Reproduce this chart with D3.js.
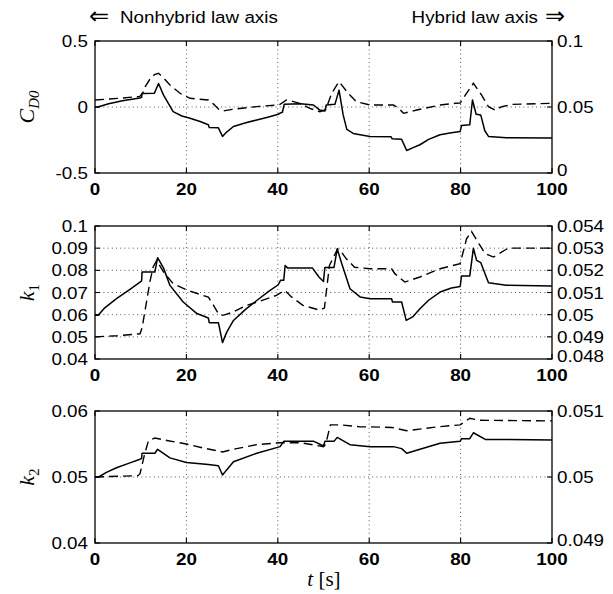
<!DOCTYPE html>
<html><head><meta charset="utf-8">
<script src="https://cdn.jsdelivr.net/npm/d3@7"></script>
<style>body{margin:0;background:#fff}svg{display:block}</style>
</head><body>
<svg id="c" width="613" height="594"></svg>
<script>
// ---------- data ----------
const xTicks = [0, 20, 40, 60, 80, 100];
const xTickLabels = ["0", "20", "40", "60", "80", "100"];

const cd0LeftTicks = [-0.5, 0, 0.5];
const cd0LeftLabels = ["-0.5", "0", "0.5"];
const cd0RightTicks = [0, 0.05, 0.1];
const cd0RightLabels = ["0", "0.05", "0.1"];

const k1LeftTicks = [0.04, 0.05, 0.06, 0.07, 0.08, 0.09, 0.1];
const k1LeftLabels = ["0.04", "0.05", "0.06", "0.07", "0.08", "0.09", "0.1"];
const k1RightTicks = [0.048, 0.049, 0.05, 0.051, 0.052, 0.053, 0.054];
const k1RightLabels = ["0.048", "0.049", "0.05", "0.051", "0.052", "0.053", "0.054"];

const k2LeftTicks = [0.04, 0.05, 0.06];
const k2LeftLabels = ["0.04", "0.05", "0.06"];
const k2RightTicks = [0.049, 0.05, 0.051];
const k2RightLabels = ["0.049", "0.05", "0.051"];

// C_D0 : nonhybrid (solid, left axis)
const cd0SolidT = [0, 0.6, 3, 6, 9.8, 10.2, 10.3, 13.0, 13.9, 15, 17.1, 19, 20.8, 23, 24.8, 25.0, 27.0, 27.9, 28.8, 30.3, 33, 35.4, 38, 40.1, 40.6, 41.0, 41.4, 45, 47.8, 49.2, 50.3, 50.6, 52.5, 53.4, 54.3, 55.1, 56.5, 58, 60.2, 64.8, 65.0, 67.1, 68.2, 69.5, 71.1, 73, 75.5, 78, 79.9, 80.2, 82.0, 82.6, 83.4, 84.4, 85.3, 86.1, 90, 100];
const cd0SolidV = [0, 0, 0.025, 0.048, 0.068, 0.073, 0.103, 0.105, 0.178, 0.09, -0.035, -0.068, -0.085, -0.11, -0.135, -0.156, -0.158, -0.223, -0.19, -0.148, -0.12, -0.098, -0.075, -0.055, -0.045, -0.04, 0.02, 0.025, 0.015, -0.023, -0.03, 0.015, 0.02, 0.128, -0.06, -0.17, -0.2, -0.21, -0.223, -0.225, -0.24, -0.245, -0.33, -0.31, -0.286, -0.245, -0.21, -0.195, -0.186, -0.14, -0.135, 0.053, -0.055, -0.06, -0.18, -0.223, -0.233, -0.235];
// C_D0 : hybrid (dashed, right axis)
const cd0DashT = [0, 5, 9.8, 10.5, 11, 12, 13, 13.9, 15, 16.4, 18.6, 20.8, 24.8, 26, 27, 28, 30, 33.2, 36, 39.7, 40.5, 41.9, 42.5, 45, 47, 49.2, 50.5, 51.8, 53.4, 55.4, 57.2, 60.2, 65.3, 66.5, 67.5, 70.4, 75.5, 78.8, 79.9, 81.3, 82.8, 84.6, 86.1, 87.5, 89, 91.3, 100];
const cd0DashV = [0.0553, 0.0565, 0.058, 0.061, 0.0654, 0.071, 0.0745, 0.0755, 0.072, 0.0667, 0.0604, 0.0566, 0.0553, 0.052, 0.0485, 0.047, 0.0482, 0.0495, 0.0505, 0.0515, 0.052, 0.0553, 0.055, 0.0525, 0.049, 0.0464, 0.048, 0.0604, 0.0692, 0.0604, 0.054, 0.0515, 0.0515, 0.049, 0.0452, 0.0477, 0.0515, 0.0528, 0.053, 0.0604, 0.068, 0.059, 0.0502, 0.0477, 0.0502, 0.052, 0.0528];

// k1 : nonhybrid (solid, left axis)
const k1SolidT = [0, 0.7, 2, 4.7, 7.5, 9.85, 10.2, 10.3, 13.1, 13.7, 15, 16.4, 19.3, 22.3, 24.8, 25.0, 27.0, 27.9, 28.8, 30.3, 33, 35.4, 38, 40.1, 40.6, 41.3, 41.6, 42.2, 47.6, 49, 50, 50.3, 52.3, 53, 54, 55.8, 58, 60.2, 64.9, 65.1, 67.1, 68.1, 69.5, 71.1, 73, 75.5, 78, 79.9, 80.2, 82, 82.8, 83.5, 84.4, 86.1, 90, 100];
const k1SolidV = [0.0597, 0.0597, 0.0628, 0.0672, 0.0712, 0.0747, 0.0752, 0.0792, 0.0792, 0.0857, 0.081, 0.0732, 0.0657, 0.0605, 0.0585, 0.0564, 0.0564, 0.0474, 0.052, 0.0574, 0.0625, 0.0664, 0.0705, 0.0735, 0.0755, 0.0755, 0.0822, 0.081, 0.081, 0.077, 0.075, 0.0813, 0.0813, 0.0897, 0.083, 0.0717, 0.068, 0.0672, 0.0672, 0.0657, 0.0657, 0.0574, 0.059, 0.0627, 0.0665, 0.0702, 0.072, 0.0727, 0.0774, 0.0774, 0.09, 0.0845, 0.0835, 0.0744, 0.0733, 0.0729];
// k1 : hybrid (dashed, right axis)
const k1DashT = [0, 5, 9.85, 10.3, 10.9, 12, 12.7, 13.5, 15, 17.1, 20.4, 24.8, 26, 27, 28, 30, 33.2, 36, 39.7, 41.5, 43, 45.5, 49.2, 50.2, 51.3, 53.1, 54, 55, 56.8, 60.2, 64.9, 65.6, 67.8, 71.1, 75.5, 79.9, 81.3, 82.4, 84, 85.4, 87.2, 90.4, 100];
const k1DashV = [0.0490, 0.04905, 0.04914, 0.0494, 0.05012, 0.05147, 0.05214, 0.05245, 0.05192, 0.0514, 0.05109, 0.05079, 0.0504, 0.05004, 0.04997, 0.0501, 0.05042, 0.0506, 0.05087, 0.0511, 0.0508, 0.05042, 0.0502, 0.0503, 0.05222, 0.05297, 0.0528, 0.05252, 0.05214, 0.05207, 0.05207, 0.05185, 0.05147, 0.0517, 0.05207, 0.0523, 0.05342, 0.05375, 0.0532, 0.05275, 0.0526, 0.053, 0.053];

// k2 : nonhybrid (solid, left axis)
const k2SolidT = [0, 0.8, 2.5, 4.7, 7.5, 9.85, 10.2, 10.3, 13.1, 13.7, 16.4, 20, 24.8, 27, 27.9, 30.3, 35.4, 40.5, 41.3, 47.9, 50, 50.3, 52.3, 53, 55.8, 60.2, 65.3, 67.1, 68.2, 75.5, 79.9, 80.2, 82, 82.8, 85.4, 100];
const k2SolidV = [0.05, 0.05, 0.0507, 0.0514, 0.0521, 0.0527, 0.0528, 0.0536, 0.0536, 0.0542, 0.0529, 0.0522, 0.0519, 0.0517, 0.0503, 0.0523, 0.0536, 0.0546, 0.0554, 0.0554, 0.0547, 0.0554, 0.0554, 0.056, 0.0549, 0.0546, 0.0546, 0.0543, 0.0536, 0.0551, 0.0554, 0.0558, 0.0558, 0.0567, 0.0557, 0.0556];
// k2 : hybrid (dashed, right axis)
const k2DashT = [0, 9.4, 9.85, 10.9, 11.7, 13.1, 16, 20, 23.6, 27.9, 31, 35.4, 40.5, 45, 50, 50.5, 51.5, 53.6, 58, 60.2, 65, 68.2, 75, 79.9, 81, 82, 84, 100];
const k2DashV = [0.05, 0.05002, 0.05005, 0.05036, 0.05055, 0.05059, 0.05055, 0.0505, 0.05044, 0.05038, 0.05043, 0.05049, 0.05052, 0.05052, 0.05046, 0.0505, 0.05079, 0.05079, 0.05076, 0.05076, 0.05075, 0.0507, 0.05076, 0.05079, 0.05084, 0.05089, 0.05086, 0.05085];

// ---------- drawing ----------
const svg = d3.select("#c");
const SX = 1.14;          // horizontal stretch of the label font
const FONT = "'Liberation Sans', Arial, Helvetica, sans-serif";
const FS = 16.5;

const x = d3.scaleLinear().domain([0, 100]).range([95, 552]);

function label(g, px, py, s, anchor, weight, size) {
  return g.append("text")
    .attr("transform", `translate(${px},${py}) scale(${SX},1)`)
    .attr("text-anchor", anchor || "start")
    .attr("font-family", FONT)
    .attr("font-size", size || FS)
    .attr("font-weight", weight || "normal")
    .attr("fill", "#000")
    .text(s);
}

const panels = [
  {top: 41, bottom: 173, lt: cd0LeftTicks, ll: cd0LeftLabels, rt: cd0RightTicks, rl: cd0RightLabels,
   sT: cd0SolidT, sV: cd0SolidV, dT: cd0DashT, dV: cd0DashV, name: "C", sub: "D0"},
  {top: 226, bottom: 359, lt: k1LeftTicks, ll: k1LeftLabels, rt: k1RightTicks, rl: k1RightLabels,
   sT: k1SolidT, sV: k1SolidV, dT: k1DashT, dV: k1DashV, name: "k", sub: "1"},
  {top: 411, bottom: 543, lt: k2LeftTicks, ll: k2LeftLabels, rt: k2RightTicks, rl: k2RightLabels,
   sT: k2SolidT, sV: k2SolidV, dT: k2DashT, dV: k2DashV, name: "k", sub: "2"}
];

panels.forEach((p, i) => {
  const g = svg.append("g");
  const yl = d3.scaleLinear().domain(d3.extent(p.lt)).range([p.bottom, p.top]);
  const yr = d3.scaleLinear().domain(d3.extent(p.rt)).range([p.bottom, p.top]);
  const x0 = x.range()[0], x1 = x.range()[1];

  // grid
  const grid = g.append("g").attr("stroke", "#444").attr("stroke-width", 0.9)
    .attr("stroke-dasharray", "1,3.2");
  xTicks.slice(1, -1).forEach(t => grid.append("line")
    .attr("x1", x(t)).attr("x2", x(t)).attr("y1", p.top).attr("y2", p.bottom));
  p.lt.slice(1, -1).forEach(v => grid.append("line")
    .attr("x1", x0).attr("x2", x1).attr("y1", yl(v)).attr("y2", yl(v)));

  // clip
  const cid = "clip" + i;
  svg.append("clipPath").attr("id", cid).append("rect")
    .attr("x", x0).attr("y", p.top).attr("width", x1 - x0).attr("height", p.bottom - p.top);

  const solid = p.sT.map((t, k) => [t, p.sV[k]]);
  const dash = p.dT.map((t, k) => [t, p.dV[k]]);
  g.append("path").datum(dash).attr("clip-path", `url(#${cid})`)
    .attr("fill", "none").attr("stroke", "#000").attr("stroke-width", 1.4)
    .attr("stroke-dasharray", "9,5")
    .attr("d", d3.line().x(d => x(d[0])).y(d => yr(d[1])));
  g.append("path").datum(solid).attr("clip-path", `url(#${cid})`)
    .attr("fill", "none").attr("stroke", "#000").attr("stroke-width", 1.5)
    .attr("stroke-linejoin", "round")
    .attr("d", d3.line().x(d => x(d[0])).y(d => yl(d[1])));

  // frame
  g.append("rect").attr("x", x0).attr("y", p.top).attr("width", x1 - x0).attr("height", p.bottom - p.top)
    .attr("fill", "none").attr("stroke", "#000").attr("stroke-width", 1.3);

  // ticks (inward)
  const tk = g.append("g").attr("stroke", "#000").attr("stroke-width", 1.1);
  xTicks.forEach(t => {
    tk.append("line").attr("x1", x(t)).attr("x2", x(t)).attr("y1", p.bottom).attr("y2", p.bottom - 5);
    tk.append("line").attr("x1", x(t)).attr("x2", x(t)).attr("y1", p.top).attr("y2", p.top + 5);
  });
  p.lt.forEach(v => tk.append("line").attr("x1", x0).attr("x2", x0 + 5).attr("y1", yl(v)).attr("y2", yl(v)));
  p.rt.forEach(v => tk.append("line").attr("x1", x1).attr("x2", x1 - 5).attr("y1", yr(v)).attr("y2", yr(v)));

  // tick labels
  p.lt.forEach((v, k) => label(g, 88, yl(v) + 6, p.ll[k], "end"));
  p.rt.forEach((v, k) => label(g, 557, yr(v) + (k === 0 ? 3 : 6), p.rl[k], "start"));
  xTicks.forEach((t, k) => label(g, x(t), p.bottom + 22, xTickLabels[k], "middle", "bold"));

  // y label
  const cy = (p.top + p.bottom) / 2;
  const yt = svg.append("text")
    .attr("transform", `translate(34,${cy}) rotate(-90)`)
    .attr("text-anchor", "middle")
    .attr("font-family", "'Liberation Serif', 'Times New Roman', serif")
    .attr("font-size", 22);
  yt.append("tspan").attr("font-style", "italic").text(p.name);
  yt.append("tspan").attr("font-style", p.sub === "D0" ? "italic" : "normal")
    .attr("font-size", 15).attr("dy", 5).text(p.sub);
});

// header texts
const head = svg.append("g");
head.append("text").attr("x", 89).attr("y", 24).attr("font-family", "'DejaVu Sans', sans-serif")
  .attr("font-size", 24).text("\u21D0");
label(head, 120, 23, "Nonhybrid law axis", "start");
label(head, 538, 23, "Hybrid law axis", "end");
head.append("text").attr("x", 545).attr("y", 24).attr("font-family", "'DejaVu Sans', sans-serif")
  .attr("font-size", 24).text("\u21D2");

// x label
const xl = svg.append("text").attr("x", 324).attr("y", 586).attr("text-anchor", "middle")
  .attr("font-family", "'Liberation Serif', 'Times New Roman', serif").attr("font-size", 21);
xl.append("tspan").attr("font-style", "italic").text("t");
xl.append("tspan").text(" [s]");
</script>
</body></html>
